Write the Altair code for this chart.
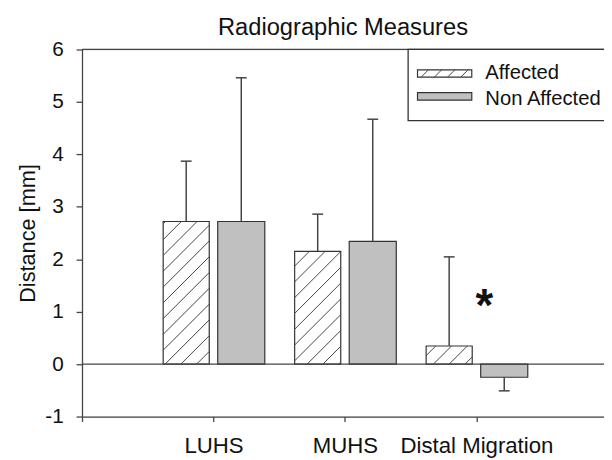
import altair as alt
import numpy as np
import pandas as pd

# ---------------- data ----------------
categories = ["LUHS", "MUHS", "Distal Migration"]
cat_pos = [1, 2, 3]
groups = ["Affected", "Non Affected"]
affected_mean = [2.72, 2.15, 0.345]
affected_sd = [1.15, 0.71, 1.70]
nonaff_mean = [2.72, 2.34, -0.25]
nonaff_sd = [2.74, 2.33, 0.26]
y_ticks = [-1, 0, 1, 2, 3, 4, 5, 6]
x_ticks = [0, 1, 2, 3]
star_text = "*"
star_category = 3
star_value = 1.32
title_text = "Radiographic Measures"
y_title = "Distance [mm]"

# ---------------- layout / style constants ----------------
W, H = 529, 372
XMAX = 3.97
YMIN, YMAX = -1, 6
PPX = W / XMAX
PPY = H / (YMAX - YMIN)
FONT = "Liberation Sans"
INK = "#111111"
LINE = "#444444"
GRAY = "#c0c0c0"
BAR_PX = {"Affected": (-51.0, -4.3), "Non Affected": (4.3, 52.0)}
CAP_PX = 11.0
HATCH_SP = 16.0
HATCH_PHASE = 1.0

# ---------------- derived tables ----------------
rows = []
for i, cat in enumerate(categories):
    c = cat_pos[i]
    for g, means, sds in (("Affected", affected_mean, affected_sd),
                          ("Non Affected", nonaff_mean, nonaff_sd)):
        m, s = means[i], sds[i]
        l, r = BAR_PX[g]
        mid = (l + r) / 2
        rows.append(dict(cat=cat, group=g,
                         x0=c + l / PPX, x1=c + r / PPX, xc=c + mid / PPX,
                         capl=c + (mid - CAP_PX / 2) / PPX,
                         capr=c + (mid + CAP_PX / 2) / PPX,
                         base=0.0, mean=m, err=m + np.sign(m) * s))
bars = pd.DataFrame(rows)

hatch = []
for _, b in bars[bars.group == "Affected"].iterrows():
    xl, xr = b.x0 * PPX, b.x1 * PPX
    yb = (min(0.0, b["mean"]) - YMIN) * PPY
    yt = (max(0.0, b["mean"]) - YMIN) * PPY
    cc = np.floor((yb - xr - HATCH_PHASE) / HATCH_SP) * HATCH_SP + HATCH_PHASE
    while cc <= yt - xl:
        xs, xe = max(xl, yb - cc), min(xr, yt - cc)
        if xe - xs > 0.5:
            hatch.append(dict(hx0=xs / PPX, hy0=(xs + cc) / PPY + YMIN,
                              hx1=xe / PPX, hy1=(xe + cc) / PPY + YMIN))
        cc += HATCH_SP
hatch = pd.DataFrame(hatch)

ref_lines = pd.DataFrame({"v": [0, YMAX]})
star = pd.DataFrame({"x": [star_category], "y": [star_value], "t": [star_text]})

# ---------------- scales / axes ----------------
label_expr = " : ".join(
    [f"datum.value == {p} ? '{n}'" for p, n in zip(cat_pos, categories)]) + " : ''"
xs_ = alt.Scale(domain=[0, XMAX], nice=False, zero=False)
ys_ = alt.Scale(domain=[YMIN, YMAX], nice=False, zero=False)
xaxis = alt.Axis(values=x_ticks, labelExpr=label_expr, title=None, grid=False,
                 tickSize=5, labelPadding=31, labelBaseline="alphabetic",
                 labelFontSize=22.5, labelFont=FONT, labelColor=INK,
                 labelOverlap=False, labelFlush=False, labelBound=False,
                 domainColor=LINE, tickColor=LINE, domainWidth=1.3, tickWidth=1.3)
yaxis = alt.Axis(values=y_ticks, labelExpr="'' + datum.value", title=y_title,
                 grid=False, tickSize=6,
                 labelPadding=13, labelFontSize=21, labelFont=FONT, labelColor=INK,
                 titleFont=FONT, titleFontSize=22, titleFontWeight="normal",
                 titleColor=INK, titleX=-48, titleY=H / 2, titleAngle=-90,
                 titleBaseline="alphabetic", titleAlign="center",
                 domainColor=LINE, tickColor=LINE, domainWidth=1.3, tickWidth=1.3,
                 labelOverlap=False, labelFlush=False)


def X(f):
    return alt.X(f, type="quantitative", scale=xs_, axis=xaxis)


def Y(f):
    return alt.Y(f, type="quantitative", scale=ys_, axis=yaxis)


fill = alt.Color("group:N", scale=alt.Scale(domain=groups, range=["white", GRAY]),
                 legend=None)

bar_layer = alt.Chart(bars).mark_rect(stroke="#333333", strokeWidth=1.2).encode(
    x=X("x0"), x2="x1", y=Y("base"), y2="mean", fill=fill)

hatch_layer = alt.Chart(hatch).mark_rule(color=LINE, strokeWidth=1).encode(
    x=X("hx0"), x2="hx1", y=Y("hy0"), y2="hy1")

err_layer = alt.Chart(bars).mark_rule(color=LINE, strokeWidth=1.5).encode(
    x=X("xc"), y=Y("mean"), y2="err")

cap_layer = alt.Chart(bars).mark_rule(color=LINE, strokeWidth=1.5).encode(
    x=X("capl"), x2="capr", y=Y("err"))

ref_layer = alt.Chart(ref_lines).mark_rule(color=LINE, strokeWidth=1.3).encode(
    y=Y("v"), x=alt.value(0), x2=alt.value(W))

star_layer = alt.Chart(star).mark_text(
    font=FONT, fontSize=46, fontWeight="bold", color=INK, dx=8, dy=12,
    baseline="middle").encode(x=X("x"), y=Y("y"), text="t:N")

title_layer = alt.Chart(pd.DataFrame({"t": [title_text]})).mark_text(
    font=FONT, fontSize=24, color=INK, align="center", baseline="alphabetic").encode(
    x=alt.value(W / 2), y=alt.value(-14.8), text="t:N")

# ---------------- legend (pixel placement) ----------------
LBOX = dict(x0=330.5, x1=W + 40, y0=0, y1=72)
SW_X0, SW_X1 = 340.0, 395.0
SW_Y = [(20.7, 28.0), (43.7, 51.3)]
TXT_X = 408.7
TXT_Y = [30.3, 56.3]

legend_box = alt.Chart(pd.DataFrame([LBOX])).mark_rect(
    fill="white", stroke="#333333", strokeWidth=1.3).encode(
    x=alt.X("x0:Q", scale=None), x2="x1:Q",
    y=alt.Y("y0:Q", scale=None), y2="y1:Q")

sw = pd.DataFrame({"group": groups, "x0": SW_X0, "x1": SW_X1,
                   "y0": [a for a, _ in SW_Y], "y1": [b for _, b in SW_Y],
                   "tx": TXT_X, "ty": TXT_Y})
legend_sw = alt.Chart(sw).mark_rect(stroke="#333333", strokeWidth=1.2).encode(
    x=alt.X("x0:Q", scale=None), x2="x1:Q",
    y=alt.Y("y0:Q", scale=None), y2="y1:Q", fill=fill)

lh = []
y_top, y_bot = SW_Y[0]
k = 0
while True:
    xb = SW_X0 + 3.7 + 13.4 * k
    xt = xb + (y_bot - y_top)
    if xt > SW_X1 - 1:
        break
    lh.append(dict(a=xb, b=xt, ya=y_bot, yb=y_top))
    k += 1
legend_hatch = alt.Chart(pd.DataFrame(lh)).mark_rule(color=LINE, strokeWidth=1).encode(
    x=alt.X("a:Q", scale=None), x2="b:Q", y=alt.Y("ya:Q", scale=None), y2="yb:Q")

legend_txt = alt.Chart(sw).mark_text(
    font=FONT, fontSize=20.5, color=INK, align="left", baseline="alphabetic").encode(
    x=alt.X("tx:Q", scale=None), y=alt.Y("ty:Q", scale=None), text="group:N")

chart = alt.layer(
    bar_layer, hatch_layer, err_layer, cap_layer, ref_layer, star_layer,
    legend_box, legend_sw, legend_hatch, legend_txt, title_layer
).properties(
    width=W, height=H,
    padding={"left": 75, "top": 39, "right": 0, "bottom": 41},
    autosize=alt.AutoSizeParams(type="none"),
).configure_view(stroke=None).configure(background="white")

chart.save("out.html", embed_options={"renderer": "svg", "actions": False})
